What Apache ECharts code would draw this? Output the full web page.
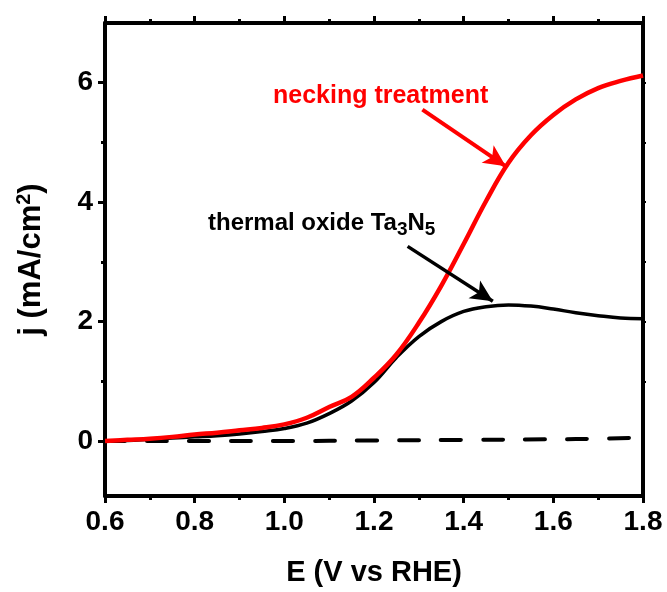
<!DOCTYPE html>
<html>
<head>
<meta charset="utf-8">
<script src="https://cdn.jsdelivr.net/npm/echarts@6/dist/echarts.min.js"></script>
<style>
  html, body { margin: 0; padding: 0; background: #fff; }
  #chart { width: 667px; height: 592px; }
</style>
</head>
<body>
<div id="chart"></div>
<script>
// Photocurrent density vs potential
var potential = [0.60, 0.65, 0.70, 0.75, 0.80, 0.85, 0.90, 0.95, 1.00, 1.05, 1.10, 1.15, 1.20, 1.25, 1.30, 1.35, 1.40, 1.45, 1.50, 1.55, 1.60, 1.65, 1.70, 1.75, 1.80];
var neckingCurrent = [0.00, 0.02, 0.04, 0.07, 0.11, 0.14, 0.18, 0.22, 0.28, 0.39, 0.57, 0.74, 1.06, 1.45, 1.98, 2.60, 3.30, 4.02, 4.66, 5.12, 5.46, 5.72, 5.91, 6.03, 6.12];
var thermalCurrent = [0.00, 0.01, 0.03, 0.05, 0.07, 0.09, 0.12, 0.16, 0.21, 0.30, 0.46, 0.67, 0.98, 1.40, 1.75, 2.00, 2.17, 2.25, 2.28, 2.26, 2.21, 2.15, 2.10, 2.06, 2.05];
var darkPotential = [0.60, 0.80, 1.00, 1.20, 1.40, 1.60, 1.70, 1.80];
var darkCurrent = [0.00, 0.00, 0.00, 0.01, 0.02, 0.03, 0.04, 0.06];

var yMajorTicks = [0, 2, 4, 6];
var yMinorTicks = [1, 3, 5];
var yRightTicks = [1, 2, 3, 4, 5, 6];

// Arrow annotations, in data units: [start, tip]
var neckingArrow = [[1.308, 5.55], [1.494, 4.60]];
var thermalArrow = [[1.275, 3.26], [1.465, 2.34]];

function pairs(xs, ys) {
  return xs.map(function (x, i) { return [x, ys[i]]; });
}

var FONT = '"Liberation Sans", Arial, sans-serif';
var AXIS_W = 4;

var chart = echarts.init(document.getElementById('chart'), null, { renderer: 'canvas' });

var xBase = {
  type: 'value', min: 0.6, max: 1.8, interval: 0.2,
  splitLine: { show: false },
  axisLine: { show: true, onZero: false, lineStyle: { color: '#000', width: AXIS_W } },
  axisTick: { show: true, inside: false, length: 7, lineStyle: { color: '#000', width: 3 } },
  minorTick: { show: true, splitNumber: 2, length: 4, lineStyle: { color: '#000', width: 3 } }
};

chart.setOption({
  animation: false,
  backgroundColor: '#fff',
  grid: { left: 105, right: 24, top: 23, bottom: 95, containLabel: false },
  xAxis: [
    Object.assign({}, xBase, {
      position: 'bottom',
      name: 'E (V vs RHE)',
      nameLocation: 'middle',
      nameGap: 62,
      nameTextStyle: { fontFamily: FONT, fontWeight: 'bold', fontSize: 29, color: '#000' },
      axisLabel: {
        show: true, margin: 12, color: '#000', fontFamily: FONT, fontWeight: 'bold', fontSize: 28,
        formatter: function (v) { return v.toFixed(1); }
      }
    }),
    Object.assign({}, xBase, {
      position: 'top',
      axisLabel: { show: false }
    })
  ],
  yAxis: [
    {
      type: 'value', min: -0.92, max: 7, position: 'left',
      splitLine: { show: false },
      axisLine: { show: true, onZero: false, lineStyle: { color: '#000', width: AXIS_W } },
      axisTick: { show: true, customValues: yMajorTicks, length: 7, lineStyle: { color: '#000', width: 3 } },
      axisLabel: {
        show: true, customValues: yMajorTicks, margin: 12, color: '#000',
        fontFamily: FONT, fontWeight: 'bold', fontSize: 28
      },
      name: 'j (mA/cm{sup|2})',
      nameLocation: 'middle',
      nameRotate: 90,
      nameGap: 57,
      nameTextStyle: {
        fontFamily: FONT, fontWeight: 'bold', fontSize: 31, color: '#000',
        rich: {
          sup: { fontFamily: FONT, fontWeight: 'bold', fontSize: 20, color: '#000', verticalAlign: 'bottom', padding: [0, 0, 14, 0] }
        }
      }
    },
    {
      type: 'value', min: -0.92, max: 7, position: 'left',
      splitLine: { show: false },
      axisLine: { show: false },
      axisTick: { show: true, customValues: yMinorTicks, length: 4, lineStyle: { color: '#000', width: 3 } },
      axisLabel: { show: false }
    },
    {
      type: 'value', min: -0.92, max: 7, position: 'right',
      splitLine: { show: false },
      axisLine: { show: true, onZero: false, lineStyle: { color: '#000', width: AXIS_W } },
      axisTick: { show: true, customValues: yRightTicks, length: 3, lineStyle: { color: '#000', width: 2 } },
      axisLabel: { show: false }
    }
  ],
  series: [
    {
      name: 'dark', type: 'line', xAxisIndex: 0, yAxisIndex: 0,
      data: pairs(darkPotential, darkCurrent),
      showSymbol: false, smooth: true, z: 2,
      lineStyle: { color: '#000', width: 4, type: [20, 22], cap: 'round' }
    },
    {
      name: 'thermal oxide Ta3N5', type: 'line', xAxisIndex: 0, yAxisIndex: 0,
      data: pairs(potential, thermalCurrent),
      showSymbol: false, smooth: 0.4, z: 3,
      lineStyle: { color: '#000', width: 3.5 },
      markLine: {
        silent: true, symbol: ['none', 'arrow'], symbolSize: [16, 22],
        label: { show: false },
        lineStyle: { color: '#000', width: 3.5, type: 'solid' },
        data: [[{ coord: thermalArrow[0] }, { coord: thermalArrow[1] }]]
      }
    },
    {
      name: 'necking treatment', type: 'line', xAxisIndex: 0, yAxisIndex: 0,
      data: pairs(potential, neckingCurrent),
      showSymbol: false, smooth: 0.4, z: 4,
      lineStyle: { color: '#ff0000', width: 4.5 },
      markLine: {
        silent: true, symbol: ['none', 'arrow'], symbolSize: [16, 22],
        label: { show: false },
        lineStyle: { color: '#ff0000', width: 4, type: 'solid' },
        data: [[{ coord: neckingArrow[0] }, { coord: neckingArrow[1] }]]
      }
    }
  ],
  graphic: [
    {
      type: 'text', left: 273, top: 84,
      style: {
        text: 'necking treatment', fill: '#ff0000',
        font: 'bold 25px ' + FONT
      }
    },
    {
      type: 'text', left: 208, top: 211,
      style: {
        text: 'thermal oxide Ta{sub|3}N{sub|5}', fill: '#000',
        font: 'bold 24px ' + FONT,
        rich: {
          sub: { fontFamily: FONT, fontWeight: 'bold', fontSize: 19, fill: '#000', padding: [14, 0, 0, 0] }
        }
      }
    }
  ]
});
</script>
</body>
</html>
